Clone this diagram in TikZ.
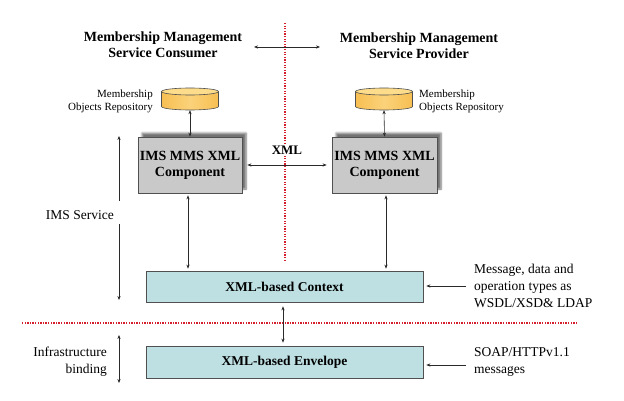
\documentclass[tikz,border=0pt]{standalone}
\usepackage{fontspec}
\setmainfont{Liberation Serif}
\usetikzlibrary{calc,arrows.meta,shadows.blur}
\definecolor{dotred}{HTML}{D41E2C}
\definecolor{cylbody}{HTML}{F7BF52}
\definecolor{cylmid}{HTML}{FBD27A}
\definecolor{cylend}{HTML}{FDDC8C}
\definecolor{compgray}{HTML}{C9C9C9}
\definecolor{ctxblue}{HTML}{BEE0E3}
\definecolor{edge}{HTML}{505050}
\definecolor{arr}{HTML}{2A2A2A}
\tikzset{
  titletext/.style={font=\bfseries\fontsize{14}{16}\selectfont, align=center, inner sep=0pt},
  smalltext/.style={font=\fontsize{11}{13}\selectfont, inner sep=0pt},
  sidetext/.style={font=\fontsize{13.5}{17}\selectfont, inner sep=0pt},
  repo/.style={rectangle, minimum width=57pt, minimum height=22pt, inner sep=0pt},
  cylside/.style={draw=edge, line width=0.6pt, left color=cylbody, right color=cylbody, middle color=cylmid},
  cyltop/.style={draw=edge, line width=0.6pt, fill=cylend},
  compbox/.style={rectangle, draw=edge, line width=0.7pt, fill=compgray, minimum height=56pt,
    align=center, inner sep=0pt, font=\bfseries\fontsize{14}{16}\selectfont,
    blur shadow={shadow xshift=4pt, shadow yshift=4pt, shadow blur steps=6, shadow opacity=55}},
  layerbox/.style={rectangle, draw=edge, line width=0.7pt, fill=ctxblue, minimum width=277pt,
    minimum height=31pt, inner sep=0pt, font=\bfseries\fontsize{13.5}{16}\selectfont},
  conn/.style={draw=arr, line width=0.6pt, {Stealth[length=4pt,width=3.2pt]}-{Stealth[length=4pt,width=3.2pt]}},
  oneway/.style={draw=arr, line width=0.6pt, -{Stealth[length=4pt,width=3.2pt]}},
  redline/.style={draw=dotred, line width=1.8pt, dash pattern=on 1.3pt off 1.3pt},
}
\begin{document}
\begin{tikzpicture}[x=1pt,y=-1pt]
\useasboundingbox (0,0) rectangle (624,401);
% dividing lines
\draw[redline] (285,23) coordinate (vtop) -- (285,262) coordinate (vbot);
\draw[redline] (22,323) coordinate (hleft) -- (576,323) coordinate (hright);
% titles
\node[titletext] (titleL) at (163,45) {Membership Management\\Service Consumer};
\node[titletext] (titleR) at (419,46) {Membership Management\\Service Provider};
\coordinate (tA) at (254,47);
\coordinate (tB) at (320,47);
\draw[conn] (tA) -- (tB);
% repositories
\node[repo] (cylL) at (190,99) {};
\node[repo] (cylR) at (384,99) {};
\foreach \c in {cylL,cylR}{
  \path[cylside] ($(\c)+(-28.5,-7.5)$) -- ($(\c)+(-28.5,7.5)$)
     arc[start angle=180, end angle=360, x radius=28.5pt, y radius=3.5pt] -- ($(\c)+(28.5,-7.5)$) -- cycle;
  \path[cyltop] ($(\c)+(0,-7.5)$) ellipse[x radius=28.5pt, y radius=3.5pt];
}
\node[smalltext, align=right, anchor=east] (repL) at (153,101) {Membership\\Objects Repository};
\node[smalltext, align=left, anchor=west] (repR) at (419,101) {Membership\\Objects Repository};
% components
\node[compbox, minimum width=104pt] (compL) at (190,165) {IMS MMS XML\\Component};
\node[compbox, minimum width=105pt] (compR) at (384.5,165) {IMS MMS XML\\Component};
\draw[conn] (cylL.south) -- (compL.north);
\draw[conn] (cylR.south) -- (compR.north);
\node[font=\bfseries\fontsize{13}{15}\selectfont, fill=white, inner sep=1.5pt] (xml) at (287,150) {XML};
\draw[conn, shorten <=5pt, shorten >=5pt] (compL.east) -- (compR.west);
% layers
\node[layerbox] (ctx) at (284.5,286.5) {XML-based Context};
\node[layerbox, minimum height=32pt] (env) at (284.5,362) {XML-based Envelope};
\draw[conn, shorten <=2pt, shorten >=2pt] ([xshift=-2pt]compL.south) -- ([xshift=-2pt]compL.south |- ctx.north);
\draw[conn, shorten <=2pt, shorten >=2pt] ([xshift=1.5pt]compR.south) -- ([xshift=1.5pt]compR.south |- ctx.north);
\draw[conn, shorten <=4pt, shorten >=3pt] ([xshift=-1.5pt]ctx.south) -- ([xshift=-1.5pt]env.north);
% right notes
\node[sidetext, align=left, anchor=west] (msg) at (474,286) {Message, data and\\operation types as\\WSDL/XSD\& LDAP};
\node[sidetext, align=left, anchor=west] (soap) at (474,362) {SOAP/HTTPv1.1\\messages};
\draw[oneway, shorten <=8pt, shorten >=3pt] (msg.west) -- (msg.west -| ctx.east);
\draw[oneway, shorten <=8pt, shorten >=3pt] ([yshift=-3pt]soap.west) -- ([yshift=-3pt]soap.west -| env.east);
% left notes
\node[sidetext, anchor=east] (ims) at (114,215) {IMS Service};
\coordinate (imsTop) at (119,136);
\coordinate (imsGapA) at (119,201);
\coordinate (imsGapB) at (119,224);
\coordinate (imsBot) at (119,300);
\draw[oneway] (imsGapA) -- (imsTop);
\draw[oneway] (imsGapB) -- (imsBot);
\node[sidetext, align=right, anchor=east] (infra) at (107,362) {Infrastructure\\binding};
\coordinate (infTop) at (119,335);
\coordinate (infBot) at (119,383);
\draw[conn] (infTop) -- (infBot);
\end{tikzpicture}
\end{document}
